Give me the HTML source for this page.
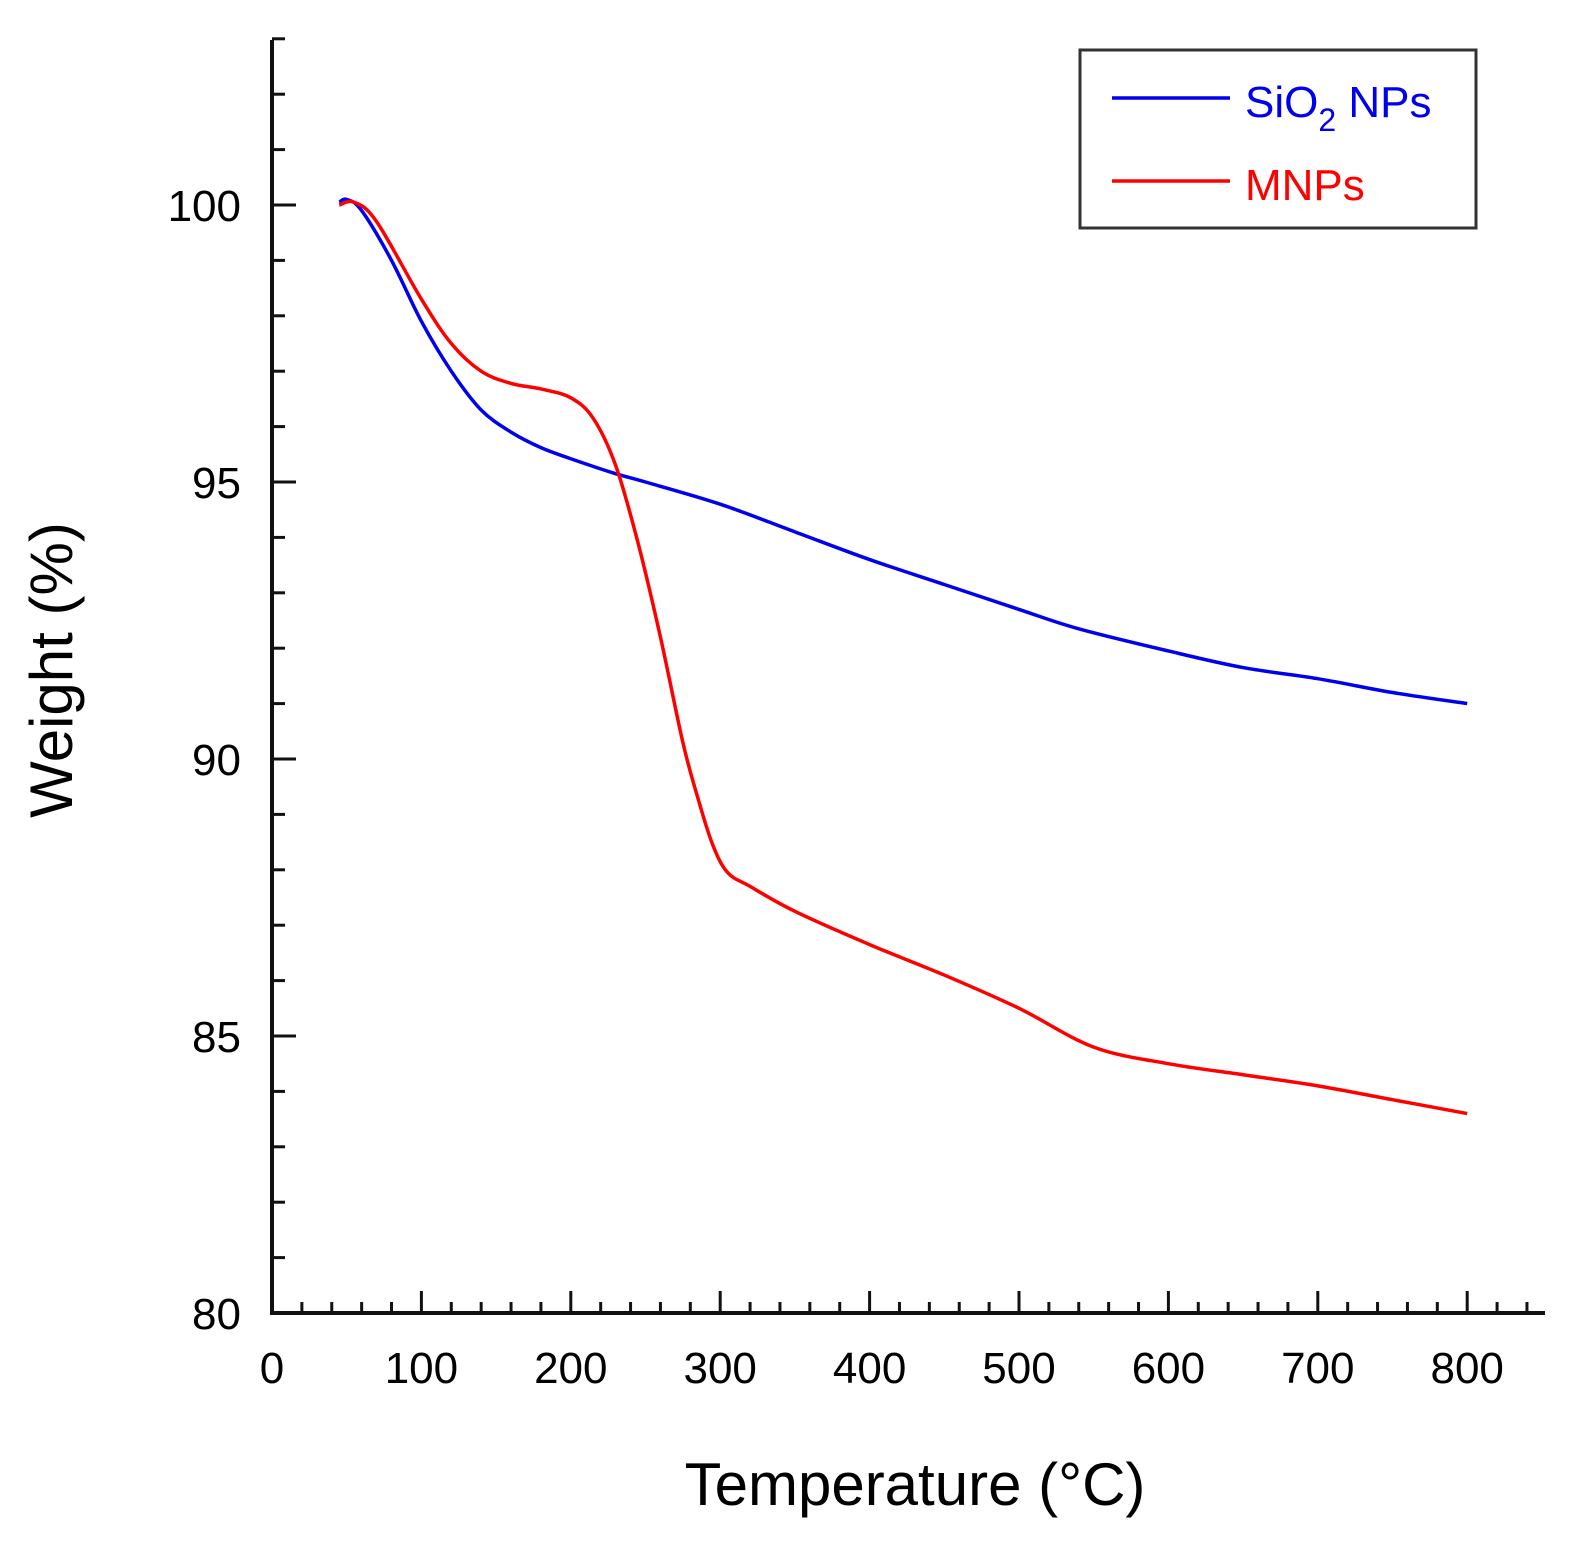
<!DOCTYPE html>
<html><head><meta charset="utf-8"><style>
body{margin:0;background:#fff}
svg text{font-family:"Liberation Sans",Arial,sans-serif}
</style></head><body>
<svg id="chart" width="1569" height="1544" xmlns="http://www.w3.org/2000/svg">
<g id="axes"></g><g id="series"></g>
<g>
<rect x="1080" y="50" width="396" height="178" fill="#fff" stroke="#333" stroke-width="3"/>
<line x1="1112" y1="98" x2="1230" y2="98" stroke="#0000ee" stroke-width="3.5"/>
<text x="1245" y="117" font-size="44" fill="#0000ee">SiO<tspan font-size="32" dy="14">2</tspan><tspan dy="-14"> NPs</tspan></text>
<line x1="1112" y1="181" x2="1230" y2="181" stroke="#ff0000" stroke-width="3.5"/>
<text x="1245" y="200" font-size="44" fill="#ff0000">MNPs</text>
</g>
<text x="915" y="1505" font-size="60" text-anchor="middle">Temperature (°C)</text>
<text transform="translate(72,670) rotate(-90)" font-size="60" text-anchor="middle">Weight (%)</text>
</svg>
<script>
const xTicks=[0,100,200,300,400,500,600,700,800];
const yTicks=[80,85,90,95,100];
const sio2T=[45,50,60,80,100,120,140,160,180,200,230,250,300,350,400,450,500,540,600,650,700,750,800];
const sio2W=[100.05,100.1,99.9,99.0,97.9,97.0,96.3,95.9,95.62,95.42,95.15,95.0,94.6,94.1,93.6,93.15,92.7,92.35,91.95,91.65,91.45,91.2,91.0];
const mnpT=[45,55,70,100,120,140,160,180,200,215,230,245,260,275,285,295,305,320,350,400,450,500,550,600,650,700,750,800];
const mnpW=[100.0,100.05,99.7,98.3,97.5,97.0,96.78,96.68,96.52,96.15,95.3,93.9,92.2,90.3,89.3,88.45,87.95,87.7,87.25,86.65,86.1,85.5,84.8,84.5,84.3,84.1,83.85,83.6];
const X0=272,PX=1.494,Y100=205,PY=55.4;
const xs=v=>X0+v*PX, ys=v=>Y100+(100-v)*PY;
const NS="http://www.w3.org/2000/svg";
const ax=document.getElementById('axes'), se=document.getElementById('series');
function mk(tag,attrs,parent){const e=document.createElementNS(NS,tag);for(const k in attrs)e.setAttribute(k,attrs[k]);parent.appendChild(e);return e;}
let e=mk('line',{x1:X0,y1:40,x2:X0,y2:ys(80)+2,stroke:'#111','stroke-width':4},ax);


e=mk('line',{x1:X0-2,y1:ys(80),x2:1545,y2:ys(80),stroke:'#111','stroke-width':4},ax);


for(let v=80;v<=103;v++){const maj=v%5==0;
 e=mk('line',{x1:X0,y1:ys(v),x2:X0+(maj?24:13),y2:ys(v),stroke:'#111','stroke-width':3},ax);
 
 }
for(let v=20;v<=840;v+=20){const maj=v%100==0;
 e=mk('line',{x1:xs(v),y1:ys(80),x2:xs(v),y2:ys(80)-(maj?22:11),stroke:'#111','stroke-width':3},ax);
 
 }
yTicks.forEach(v=>{e=mk('text',{x:241,y:ys(v)+16,'font-size':44,'text-anchor':'end'},ax);e.textContent=v;
 
 });
xTicks.forEach(v=>{e=mk('text',{x:xs(v),y:1383,'font-size':44,'text-anchor':'middle'},ax);e.textContent=v;
 
 });
function path(T,W){const p=T.map((t,i)=>[xs(t),ys(W[i])]);let d='M'+p[0];
 for(let i=0;i<p.length-1;i++){const p0=p[i-1]||p[i],p1=p[i],p2=p[i+1],p3=p[i+2]||p2;
  const c1=[p1[0]+(p2[0]-p0[0])/6,p1[1]+(p2[1]-p0[1])/6],c2=[p2[0]-(p3[0]-p1[0])/6,p2[1]-(p3[1]-p1[1])/6];
  d+=` C${c1} ${c2} ${p2}`;}return d;}
e=mk('path',{d:path(sio2T,sio2W),fill:'none',stroke:'#0000ee','stroke-width':3.5,'stroke-linejoin':'round'},se);


e=mk('path',{d:path(mnpT,mnpW),fill:'none',stroke:'#ff0000','stroke-width':3.5,'stroke-linejoin':'round'},se);


</script>
</body></html>
